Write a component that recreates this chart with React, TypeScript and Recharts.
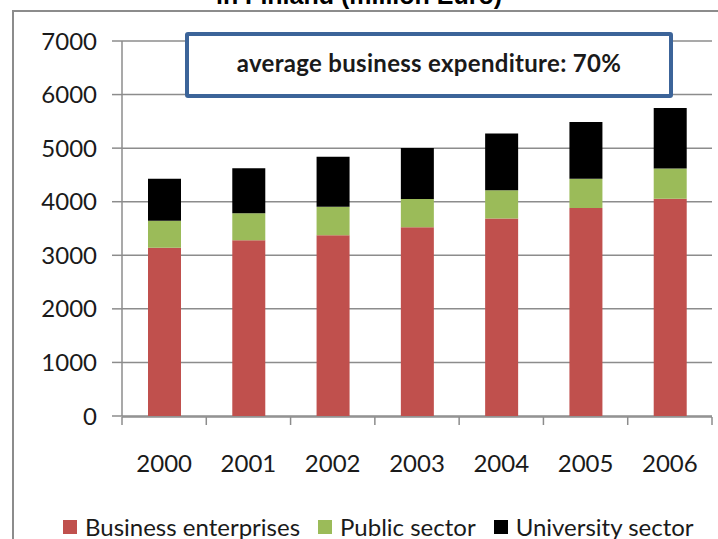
import React from 'react';
import { BarChart, Bar, XAxis, YAxis, CartesianGrid, Legend } from 'recharts';

// R&D expenditure by sector in Finland, million Euro
const years = ['2000', '2001', '2002', '2003', '2004', '2005', '2006'];
const business = [3140, 3280, 3375, 3525, 3685, 3885, 4055];
const publicSector = [505, 505, 530, 525, 530, 545, 565];
const university = [785, 840, 935, 955, 1060, 1060, 1130];
const yTicks = [0, 1000, 2000, 3000, 4000, 5000, 6000, 7000];
const edgeTicks = [0, 1, 2, 3, 4, 5, 6, 7];

const data = years.map((year, i) => ({
  year,
  business: business[i],
  publicSector: publicSector[i],
  university: university[i],
}));

const FONT = 'Lato, "Open Sans", sans-serif';
const GRID = '#8c8c8c';

const legendItems = [
  { key: 'business', label: 'Business enterprises', color: '#c0504d' },
  { key: 'publicSector', label: 'Public sector', color: '#9bbb59' },
  { key: 'university', label: 'University sector', color: '#000000' },
];

function LegendContent() {
  return (
    <div style={{ display: 'flex', alignItems: 'center', fontFamily: FONT, fontSize: 24, color: '#1a1a1a', whiteSpace: 'nowrap' }}>
      {legendItems.map((it) => (
        <div key={it.key} style={{ display: 'flex', alignItems: 'center', marginRight: 18 }}>
          <span style={{ width: 14, height: 14, background: it.color, display: 'inline-block', marginRight: 8 }} />
          <span>{it.label}</span>
        </div>
      ))}
    </div>
  );
}

const EmptyTick = () => <g />;

export default function App() {
  return (
    <div style={{ position: 'absolute', left: 0, top: 0, width: 718, height: 539, overflow: 'hidden', background: '#fff' }}>
      <div
        style={{
          position: 'absolute',
          left: 12,
          top: 10,
          width: 800,
          height: 700,
          border: `2px solid ${GRID}`,
          boxSizing: 'border-box',
        }}
      />
      <div
        style={{
          position: 'absolute',
          left: 0,
          width: 718,
          top: -17,
          textAlign: 'center',
          fontFamily: '"Liberation Sans", Arial, sans-serif',
          fontWeight: 'bold',
          fontSize: 25,
          lineHeight: 1,
        }}
      >
        in Finland (million Euro)
      </div>
      <div style={{ position: 'absolute', left: 0, top: 0 }}>
        <BarChart
          width={718}
          height={539}
          data={data}
          margin={{ top: 41, right: 6, bottom: 121, left: 62 }}
          barSize={33}
        >
          <CartesianGrid vertical={false} stroke={GRID} strokeWidth={1.5} />
          <XAxis
            xAxisId="edges"
            type="number"
            dataKey="edge"
            domain={[0, 7]}
            ticks={edgeTicks}
            interval={0}
            allowDataOverflow
            height={1}
            tick={EmptyTick}
            tickSize={8}
            axisLine={{ stroke: GRID, strokeWidth: 1.5 }}
            tickLine={{ stroke: GRID, strokeWidth: 1.5 }}
          />
          <XAxis
            dataKey="year"
            height={1}
            axisLine={false}
            tickLine={false}
            tickMargin={33}
            interval={0}
            tick={{ fill: '#1a1a1a', fontSize: 24, fontFamily: FONT }}
          />
          <YAxis
            width={60}
            domain={[0, 7000]}
            ticks={yTicks}
            interval={0}
            tickSize={10}
            tickMargin={15}
            axisLine={{ stroke: GRID, strokeWidth: 1.5 }}
            tickLine={{ stroke: GRID, strokeWidth: 1.5 }}
            tick={{ fill: '#1a1a1a', fontSize: 24, fontFamily: FONT }}
          />
          <Legend
            verticalAlign="middle"
            layout="horizontal"
            content={<LegendContent />}
            wrapperStyle={{ position: 'absolute', top: 512, left: 63, width: 'auto' }}
          />
          <Bar dataKey="business" stackId="a" fill="#c0504d" isAnimationActive={false} name="Business enterprises" />
          <Bar dataKey="publicSector" stackId="a" fill="#9bbb59" isAnimationActive={false} name="Public sector" />
          <Bar dataKey="university" stackId="a" fill="#000000" isAnimationActive={false} name="University sector" />
        </BarChart>
      </div>
      <div
        style={{
          position: 'absolute',
          left: 185,
          top: 32,
          width: 488,
          height: 66,
          border: '4px solid #3c6499',
          borderRadius: 3,
          boxSizing: 'border-box',
          background: '#fff',
          display: 'flex',
          alignItems: 'center',
          justifyContent: 'center',
          fontFamily: FONT,
          fontWeight: 'bold',
          fontSize: 24,
          letterSpacing: 0.3,
          color: '#1a1a1a',
          paddingBottom: 6,
        }}
      >
        average business expenditure: 70%
      </div>
    </div>
  );
}
